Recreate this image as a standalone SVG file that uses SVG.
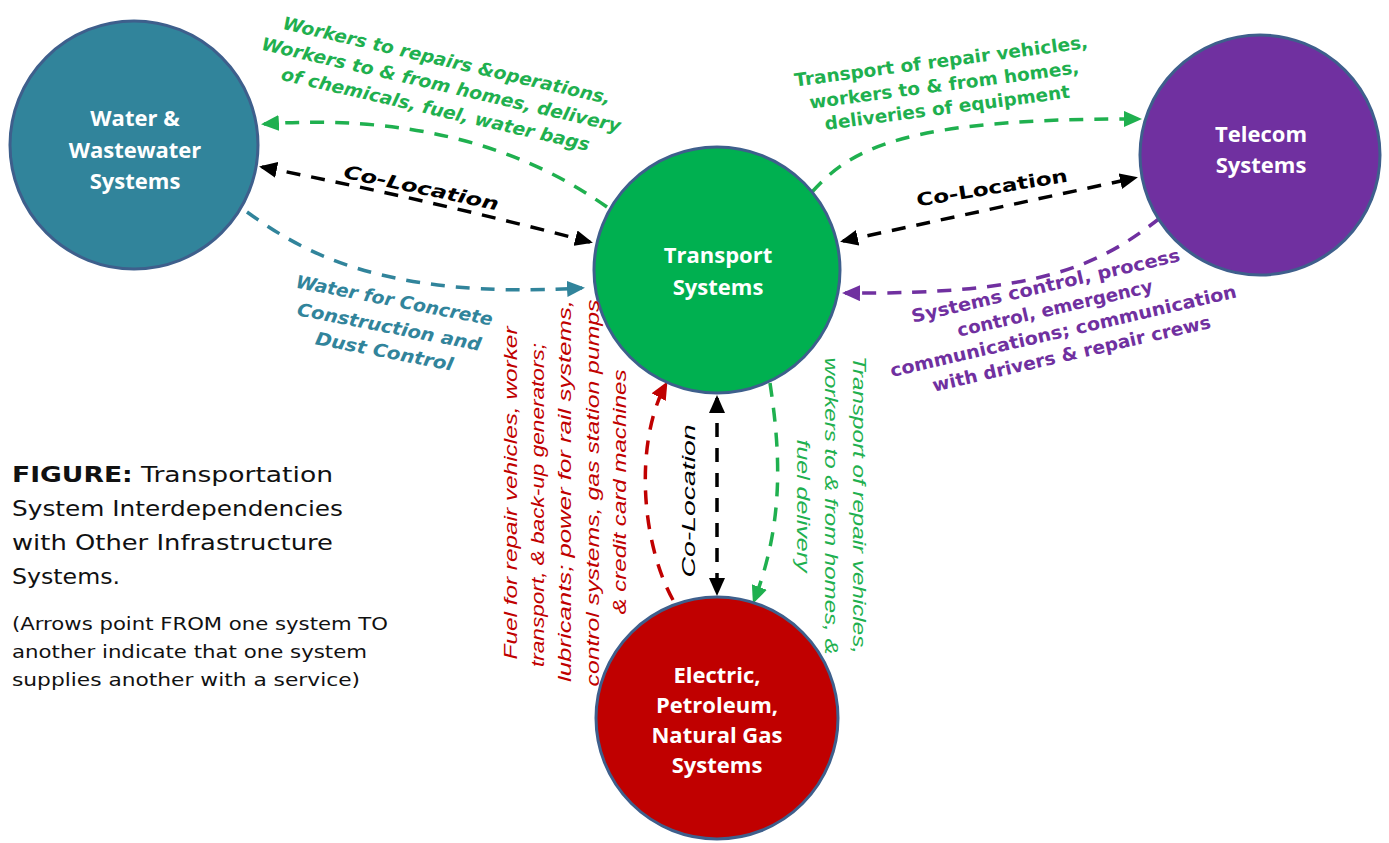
<svg xmlns="http://www.w3.org/2000/svg" width="1389" height="843" viewBox="0 0 1389 843">
<style>
.node{stroke:#3e5f8c;stroke-width:3}
.nt{font-family:"Open Sans","DejaVu Sans",sans-serif;font-weight:700;font-size:22px;fill:#ffffff;text-anchor:middle}
.dash{fill:none;stroke-width:3.5;stroke-dasharray:14 11}
.lbl{font-family:"DejaVu Sans","Liberation Sans",sans-serif;font-weight:700;font-size:18px;text-anchor:middle}
.vl{font-family:"Liberation Sans","Arial",sans-serif;font-style:italic;font-size:19px;text-anchor:middle}
.cap{font-family:"DejaVu Sans","Liberation Sans",sans-serif;font-size:21px;fill:#111}
.cap2{font-family:"DejaVu Sans","Liberation Sans",sans-serif;font-size:17px;fill:#111}
</style>
<defs>
<marker id="mg" viewBox="0 0 18 16" refX="15" refY="8" markerWidth="18" markerHeight="16" markerUnits="userSpaceOnUse" orient="auto-start-reverse"><path d="M0,0 L18,8 L0,16 z" fill="#1fb04f"/></marker>
<marker id="mk" viewBox="0 0 18 16" refX="15" refY="8" markerWidth="18" markerHeight="16" markerUnits="userSpaceOnUse" orient="auto-start-reverse"><path d="M0,0 L18,8 L0,16 z" fill="#000"/></marker>
<marker id="mt" viewBox="0 0 18 16" refX="15" refY="8" markerWidth="18" markerHeight="16" markerUnits="userSpaceOnUse" orient="auto-start-reverse"><path d="M0,0 L18,8 L0,16 z" fill="#31849b"/></marker>
<marker id="mp" viewBox="0 0 18 16" refX="15" refY="8" markerWidth="18" markerHeight="16" markerUnits="userSpaceOnUse" orient="auto-start-reverse"><path d="M0,0 L18,8 L0,16 z" fill="#7030a0"/></marker>
<marker id="mr" viewBox="0 0 18 16" refX="15" refY="8" markerWidth="18" markerHeight="16" markerUnits="userSpaceOnUse" orient="auto-start-reverse"><path d="M0,0 L18,8 L0,16 z" fill="#c00000"/></marker>
</defs>
<rect width="1389" height="843" fill="#ffffff"/>

<g id="connectors">
<path class="dash" stroke="#1fb04f" d="M 607 207 Q 470 110 264 124" marker-end="url(#mg)"/>
<path class="dash" stroke="#000" d="M 262 167 Q 430 200 590 242" marker-start="url(#mk)" marker-end="url(#mk)"/>
<path class="dash" stroke="#31849b" d="M 247 212 C 300 250 380 300 582 288" marker-end="url(#mt)"/>
<path class="dash" stroke="#1fb04f" d="M 812 192 C 850 150 900 118 1139 119" marker-end="url(#mg)"/>
<path class="dash" stroke="#000" d="M 843 241 L 1135 178" marker-start="url(#mk)" marker-end="url(#mk)"/>
<path class="dash" stroke="#7030a0" d="M 1160 218 C 1100 265 1040 295 845 293" marker-end="url(#mp)"/>
<path class="dash" stroke="#c00000" d="M 673 600 C 640 540 635 440 666 384" marker-end="url(#mr)"/>
<path class="dash" stroke="#000" d="M 717 398 L 717 593" marker-start="url(#mk)" marker-end="url(#mk)"/>
<path class="dash" stroke="#1fb04f" d="M 770 383 C 780 450 785 520 754 601" marker-end="url(#mg)"/>
</g>

<g id="water">
<circle class="node" cx="134" cy="145" r="124" fill="#31849b"/>
<text class="nt" x="135" y="126">Water &amp;</text>
<text class="nt" x="135" y="158">Wastewater</text>
<text class="nt" x="135" y="189">Systems</text>
</g>
<g id="transport">
<circle class="node" cx="717" cy="270" r="123" fill="#00b050"/>
<text class="nt" x="718" y="263">Transport</text>
<text class="nt" x="718" y="295">Systems</text>
</g>
<g id="telecom">
<circle class="node" cx="1260" cy="155" r="120" fill="#7030a0"/>
<text class="nt" x="1261" y="142">Telecom</text>
<text class="nt" x="1261" y="173">Systems</text>
</g>
<g id="electric">
<circle class="node" cx="717" cy="718" r="121" fill="#c00000"/>
<text class="nt" x="717" y="683">Electric,</text>
<text class="nt" x="717" y="713">Petroleum,</text>
<text class="nt" x="717" y="743">Natural Gas</text>
<text class="nt" x="717" y="773">Systems</text>
</g>

<g id="labels">
<g transform="translate(440 90) rotate(13)" fill="#1fb04f" font-style="italic">
<text class="lbl" x="0" y="-24" textLength="336" lengthAdjust="spacingAndGlyphs">Workers to repairs &amp;operations,</text>
<text class="lbl" x="0" y="1" textLength="368" lengthAdjust="spacingAndGlyphs">Workers to &amp; from homes, delivery</text>
<text class="lbl" x="0" y="26" textLength="316" lengthAdjust="spacingAndGlyphs">of chemicals, fuel, water bags</text>
</g>
<g transform="translate(420 194) rotate(12)">
<text class="lbl" font-style="italic" font-size="20" fill="#000" textLength="158" lengthAdjust="spacingAndGlyphs">Co-Location</text>
</g>
<g transform="translate(388 333) rotate(11)" fill="#31849b" font-style="italic">
<text class="lbl" x="0" y="-27" textLength="200" lengthAdjust="spacingAndGlyphs">Water for Concrete</text>
<text class="lbl" x="0" y="0" textLength="187" lengthAdjust="spacingAndGlyphs">Construction and</text>
<text class="lbl" x="0" y="25" textLength="140" lengthAdjust="spacingAndGlyphs">Dust Control</text>
</g>
<g transform="translate(945 91) rotate(-7.5)" fill="#1fb04f">
<text class="lbl" x="0" y="-24" textLength="296" lengthAdjust="spacingAndGlyphs">Transport of repair vehicles,</text>
<text class="lbl" x="0" y="0" textLength="272" lengthAdjust="spacingAndGlyphs">workers to &amp; from homes,</text>
<text class="lbl" x="0" y="23" textLength="247" lengthAdjust="spacingAndGlyphs">deliveries of equipment</text>
</g>
<g transform="translate(993 194) rotate(-9.4)">
<text class="lbl" font-size="20" fill="#000" textLength="153" lengthAdjust="spacingAndGlyphs">Co-Location</text>
</g>
<g transform="translate(1059 326) rotate(-13)" fill="#7030a0">
<text class="lbl" x="-4" y="-36" textLength="275" lengthAdjust="spacingAndGlyphs">Systems control,  process</text>
<text class="lbl" x="0" y="-12" textLength="200" lengthAdjust="spacingAndGlyphs">control, emergency</text>
<text class="lbl" x="3" y="12" textLength="355" lengthAdjust="spacingAndGlyphs">communications; communication</text>
<text class="lbl" x="6" y="36" textLength="285" lengthAdjust="spacingAndGlyphs">with drivers &amp; repair crews</text>
</g>
<g fill="#c00000">
<text class="vl" transform="translate(517 493) rotate(-90)" textLength="333" lengthAdjust="spacingAndGlyphs">Fuel for repair vehicles, worker</text>
<text class="vl" transform="translate(544 505) rotate(-90)" textLength="324" lengthAdjust="spacingAndGlyphs">transport, &amp; back-up generators;</text>
<text class="vl" transform="translate(571 491) rotate(-90)" textLength="382" lengthAdjust="spacingAndGlyphs">lubricants; power for rail  systems,</text>
<text class="vl" transform="translate(599 493) rotate(-90)" textLength="387" lengthAdjust="spacingAndGlyphs">control systems, gas station pumps</text>
<text class="vl" transform="translate(626 492) rotate(-90)" textLength="245" lengthAdjust="spacingAndGlyphs">&amp; credit card machines</text>
</g>
<text class="vl" font-size="21" fill="#000" transform="translate(695 501) rotate(-90)" textLength="153" lengthAdjust="spacingAndGlyphs">Co-Location</text>
<g fill="#1fb04f">
<text class="vl" transform="translate(853 505) rotate(90)" textLength="298" lengthAdjust="spacingAndGlyphs">Transport of repair vehicles,</text>
<text class="vl" transform="translate(825 506) rotate(90)" textLength="297" lengthAdjust="spacingAndGlyphs">workers to &amp; from homes, &amp;</text>
<text class="vl" transform="translate(797 506) rotate(90)" textLength="133" lengthAdjust="spacingAndGlyphs">fuel delivery</text>
</g>
</g>

<g id="caption">
<text class="cap" x="12" y="482" textLength="321" lengthAdjust="spacingAndGlyphs"><tspan font-weight="700">FIGURE:</tspan>  Transportation</text>
<text class="cap" x="12" y="516" textLength="331" lengthAdjust="spacingAndGlyphs">System Interdependencies</text>
<text class="cap" x="12" y="550" textLength="321" lengthAdjust="spacingAndGlyphs">with Other Infrastructure</text>
<text class="cap" x="12" y="584" textLength="108" lengthAdjust="spacingAndGlyphs">Systems.</text>
<text class="cap2" x="12" y="630" textLength="376" lengthAdjust="spacingAndGlyphs">(Arrows point FROM one system TO</text>
<text class="cap2" x="12" y="658" textLength="355" lengthAdjust="spacingAndGlyphs">another indicate that one system</text>
<text class="cap2" x="12" y="686" textLength="348" lengthAdjust="spacingAndGlyphs">supplies another with a service)</text>
</g>
</svg>
